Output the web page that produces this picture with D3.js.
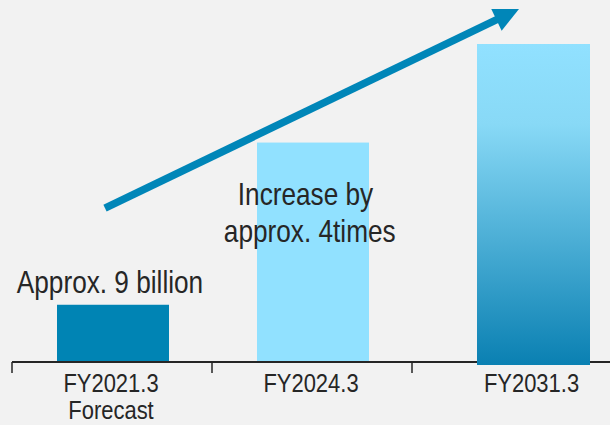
<!DOCTYPE html>
<html>
<head>
<meta charset="utf-8">
<script src="https://cdn.jsdelivr.net/npm/d3@7"></script>
<style>
  html, body { margin: 0; padding: 0; background: #f2f2f2; }
  svg { display: block; }
  text { font-family: "Liberation Sans Narrow", "Arial Narrow", "Liberation Sans", Arial, sans-serif; fill: #262626; }
</style>
</head>
<body>
<svg id="chart" width="610" height="425"></svg>
<script>
// Data
const categories = ["FY2021.3", "FY2024.3", "FY2031.3"];
const subLabels = ["Forecast", "", ""];
const values = [9, 34.5, 50];
const barLabel = "Approx. 9 billion";
const growthLabel = ["Increase by", "approx. 4times"];

const W = 610, H = 425;
const svg = d3.select("#chart");
const narrow = 0.845; // horizontal condensation to imitate a narrow face

// Scales
const y = d3.scaleLinear().domain([0, 50]).range([362, 44]);
const xBand = d3.scaleBand().domain(categories).range([12, 612]).padding(0);
const xCenter = d3.scaleOrdinal().domain(categories).range([113, 313, 533.5]);
const barW = 112;

// gradient for last bar
const defs = svg.append("defs");
const grad = defs.append("linearGradient").attr("id", "g3")
  .attr("x1", 0).attr("y1", 0).attr("x2", 0).attr("y2", 1);
grad.append("stop").attr("offset", "0%").attr("stop-color", "#91e1ff");
grad.append("stop").attr("offset", "25%").attr("stop-color", "#88d9f6");
grad.append("stop").attr("offset", "100%").attr("stop-color", "#0a80b2");

const fills = ["#0084b4", "#91e1ff", "url(#g3)"];

// bars 1 and 2 (under axis)
svg.selectAll("rect.bar").data(categories.slice(0, 2)).enter().append("rect")
  .attr("class", "bar")
  .attr("x", d => xCenter(d) - barW / 2)
  .attr("y", (d, i) => y(values[i]))
  .attr("width", barW)
  .attr("height", (d, i) => y(0) - y(values[i]))
  .attr("fill", (d, i) => fills[i]);

// axis
const axisG = svg.append("g");
axisG.append("line")
  .attr("x1", 12).attr("x2", W).attr("y1", y(0)).attr("y2", y(0))
  .attr("stroke", "#262626").attr("stroke-width", 2);
axisG.selectAll("line.tick").data(categories).enter().append("line")
  .attr("class", "tick")
  .attr("x1", d => xBand(d)).attr("x2", d => xBand(d))
  .attr("y1", y(0)).attr("y2", y(0) + 11)
  .attr("stroke", "#262626").attr("stroke-width", 1.5);

// bar 3 over axis
svg.append("rect")
  .attr("x", xCenter(categories[2]) - barW / 2 - 0.5)
  .attr("y", y(values[2]))
  .attr("width", barW + 1)
  .attr("height", y(0) - y(values[2]) + 3)
  .attr("fill", fills[2]);

// helper: condensed text
function ntext(x, yy, size) {
  return svg.append("text")
    .attr("transform", `translate(${x},${yy}) scale(${narrow},1)`)
    .attr("text-anchor", "middle")
    .attr("font-size", size);
}

// tick labels (with sub label as second line)
categories.forEach((c, i) => {
  const t = ntext(xCenter(c) - 2, 392, 26);
  t.append("tspan").attr("x", 0).attr("y", 0).text(c);
  if (subLabels[i]) t.append("tspan").attr("x", 0).attr("y", 27).text(subLabels[i]);
});

// value label
ntext(xCenter(categories[0]) - 3, y(values[0]) - 12, 31).text(barLabel);

// growth label
const g = ntext(xCenter(categories[1]) - 7.5, 205, 31);
growthLabel.forEach((s, i) => {
  g.append("tspan").attr("x", i * 5).attr("y", i * 37).text(s);
});

// arrow
const x0 = xCenter(categories[0]) - 8, y0 = y(24.2);
const x1 = xCenter(categories[2]) - 14.5, y1 = y(55.5);
const dx = x1 - x0, dy = y1 - y0, len = Math.hypot(dx, dy);
const ux = dx / len, uy = dy / len;
const headL = 25, headW = 12;
const bx = x1 - ux * headL, by = y1 - uy * headL;
svg.append("line")
  .attr("x1", x0).attr("y1", y0).attr("x2", bx + ux * 2).attr("y2", by + uy * 2)
  .attr("stroke", "#0086b8").attr("stroke-width", 7.5);
svg.append("path")
  .attr("d", `M${x1},${y1}L${bx - uy * headW},${by + ux * headW}L${bx + uy * headW},${by - ux * headW}Z`)
  .attr("fill", "#0086b8");
</script>
</body>
</html>
